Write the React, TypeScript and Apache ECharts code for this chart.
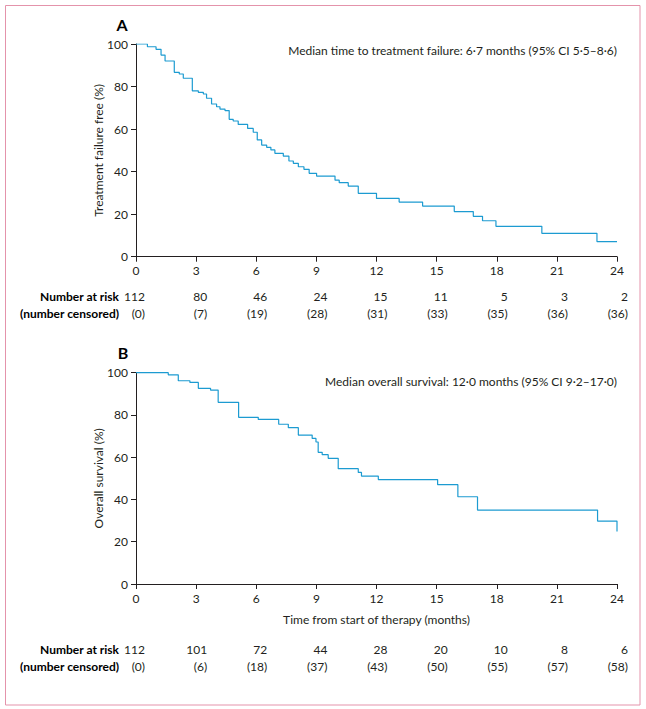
import React, { useEffect, useRef } from "react";
import * as echarts from "echarts";

const monthTicks = [0, 3, 6, 9, 12, 15, 18, 21, 24];

const timesA = [0, 0.57, 1.0, 1.25, 1.45, 1.91, 2.16, 2.36, 2.81, 3.11, 3.36, 3.52, 3.77, 4.02, 4.19, 4.44, 4.65, 4.85, 5.1, 5.57, 5.85, 6.05, 6.27, 6.52, 6.73, 6.93, 7.35, 7.63, 7.85, 8.1, 8.38, 8.64, 9.01, 9.93, 10.14, 10.59, 11.09, 12.0, 13.13, 14.3, 15.88, 16.83, 17.29, 17.96, 20.25, 23.0, 24];
const valuesA = [100, 98.7, 97.5, 94.8, 92, 86.7, 85.9, 83.9, 78, 77.3, 76.5, 74.5, 71.8, 70.5, 69.4, 68.7, 64.6, 63.8, 62.2, 60.3, 58.5, 54.9, 52.5, 51.4, 50.2, 48.6, 47.3, 45, 43.9, 42.3, 41.1, 39.2, 37.9, 36, 34.8, 33.2, 29.8, 27.4, 25.7, 23.8, 21.2, 19, 16.9, 14.3, 11, 7.1, 7.1];

const timesB = [0, 1.61, 2.11, 2.69, 3.11, 3.72, 4.1, 5.12, 6.1, 7.12, 7.6, 8.1, 8.79, 8.98, 9.09, 9.29, 9.59, 10.09, 11.09, 11.25, 12.09, 15.05, 16.06, 17.04, 23.03, 24, 24];
const valuesB = [100, 99, 96.2, 95.4, 92.6, 91.8, 86, 78.9, 77.9, 75.6, 74, 70.5, 68.9, 67.2, 62.3, 61.2, 59.5, 54.6, 52.8, 51.1, 49.4, 47, 41.3, 35, 29.8, 29.8, 24.8];

const atRiskA = ["112", "80", "46", "24", "15", "11", "5", "3", "2"];
const censoredA = ["(0)", "(7)", "(19)", "(28)", "(31)", "(33)", "(35)", "(36)", "(36)"];
const atRiskB = ["112", "101", "72", "44", "28", "20", "10", "8", "6"];
const censoredB = ["(0)", "(6)", "(18)", "(37)", "(43)", "(50)", "(55)", "(57)", "(58)"];

const titleA = "A";
const titleB = "B";
const noteA = "Median time to treatment failure: 6·7 months (95% CI 5·5–8·6)";
const noteB = "Median overall survival: 12·0 months (95% CI 9·2–17·0)";
const yNameA = "Treatment failure free (%)";
const yNameB = "Overall survival (%)";
const xNameB = "Time from start of therapy (months)";
const rowLabel1 = "Number at risk";
const rowLabel2 = "(number censored)";

const FONT = "Lato";
const TXT = "#231f20";
const LINE = "#1c9bd1";
const FS = 12;

export default function App() {
  const ref = useRef<HTMLDivElement>(null);
  useEffect(() => {
    if (!ref.current) return;
    const chart = echarts.init(ref.current, undefined, { renderer: "svg" });
    const axisX = (gridIndex: number, name: string) => ({
      type: "value",
      gridIndex,
      min: 0,
      max: 24,
      interval: 3,
      name,
      nameLocation: "middle",
      nameGap: 29,
      nameTextStyle: { fontFamily: FONT, fontSize: FS, color: TXT },
      axisLine: { show: true, lineStyle: { color: TXT, width: 1 } },
      axisTick: { show: true, length: 5, lineStyle: { color: TXT } },
      axisLabel: { fontFamily: FONT, fontSize: FS, color: TXT, margin: 8 },
      splitLine: { show: false },
    });
    const axisY = (gridIndex: number, name: string) => ({
      type: "value",
      gridIndex,
      min: 0,
      max: 100,
      interval: 20,
      name,
      nameLocation: "middle",
      nameGap: 32,
      nameMoveOverlap: false,
      nameTextStyle: { fontFamily: FONT, fontSize: FS, color: TXT },
      axisLine: { show: true, lineStyle: { color: TXT, width: 1 } },
      axisTick: { show: true, length: 5, lineStyle: { color: TXT } },
      axisLabel: { fontFamily: FONT, fontSize: FS, color: TXT, margin: 8 },
      splitLine: { show: false },
    });
    const option: any = {
      animation: false,
      backgroundColor: "#ffffff",
      grid: [
        { left: 136, top: 44, width: 481, height: 212.7, containLabel: false },
        { left: 136, top: 372.7, width: 481, height: 211.3, containLabel: false },
      ],
      xAxis: [axisX(0, ""), axisX(1, xNameB)],
      yAxis: [axisY(0, yNameA), axisY(1, yNameB)],
      series: [
        {
          type: "line",
          xAxisIndex: 0,
          yAxisIndex: 0,
          step: "end",
          showSymbol: false,
          symbol: "none",
          lineStyle: { color: LINE, width: 1.2 },
          data: timesA.map((t, i) => [t, valuesA[i]]),
        },
        {
          type: "line",
          xAxisIndex: 1,
          yAxisIndex: 1,
          step: "end",
          showSymbol: false,
          symbol: "none",
          lineStyle: { color: LINE, width: 1.2 },
          data: timesB.map((t, i) => [t, valuesB[i]]),
        },
      ],
    };
    chart.setOption(option);

    const gfx: any[] = [
      {
        type: "rect",
        shape: { x: 5.5, y: 5.5, width: 634.5, height: 699.5 },
        style: { fill: "none", stroke: "#e493ab", lineWidth: 1 },
        silent: true,
      },
      { type: "text", x: 122, y: 24, style: { text: titleA, font: `bold 16px ${FONT}`, fill: "#000", align: "center", verticalAlign: "middle" } },
      { type: "text", x: 123, y: 352, style: { text: titleB, font: `bold 16px ${FONT}`, fill: "#000", align: "center", verticalAlign: "middle" } },
      { type: "text", x: 617, y: 50.5, style: { text: noteA, font: `${FS}px ${FONT}`, fill: TXT, align: "right", verticalAlign: "middle" } },
      { type: "text", x: 617, y: 381, style: { text: noteB, font: `${FS}px ${FONT}`, fill: TXT, align: "right", verticalAlign: "middle" } },
    ];
    const rows = [
      { y1: 296, y2: 313.5, risk: atRiskA, cens: censoredA, axis: 0 },
      { y1: 649, y2: 666, risk: atRiskB, cens: censoredB, axis: 1 },
    ];
    rows.forEach((r) => {
      gfx.push({ type: "text", x: 119, y: r.y1, style: { text: rowLabel1, font: `bold ${FS}px ${FONT}`, fill: "#000", align: "right", verticalAlign: "middle" } });
      gfx.push({ type: "text", x: 119, y: r.y2, style: { text: rowLabel2, font: `bold ${FS}px ${FONT}`, fill: "#000", align: "right", verticalAlign: "middle" } });
      monthTicks.forEach((m, i) => {
        const px = chart.convertToPixel({ xAxisIndex: r.axis }, m) as number;
        const off = i === 0 ? 9 : 11;
        gfx.push({ type: "text", x: px + off, y: r.y1, style: { text: r.risk[i], font: `${FS}px ${FONT}`, fill: TXT, align: "right", verticalAlign: "middle" } });
        gfx.push({ type: "text", x: px + off, y: r.y2, style: { text: r.cens[i], font: `${FS}px ${FONT}`, fill: TXT, align: "right", verticalAlign: "middle" } });
      });
    });
    chart.setOption({ graphic: gfx });
    return () => chart.dispose();
  }, []);
  return (
    <div
      ref={ref}
      style={{ position: "absolute", left: 0, top: 0, width: 646, height: 709 }}
    />
  );
}
